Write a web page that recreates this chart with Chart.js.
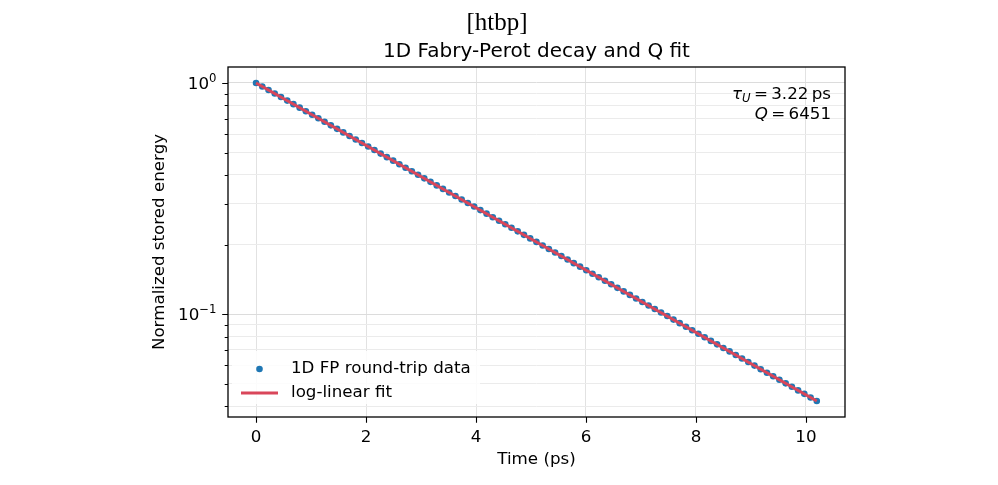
<!DOCTYPE html>
<html>
<head>
<meta charset="utf-8">
<script src="https://cdn.jsdelivr.net/npm/chart.js@4.4.1/dist/chart.umd.min.js"></script>
<style>
  html, body { margin: 0; padding: 0; background: #fff; }
</style>
</head>
<body>
<canvas id="decayChart" width="998" height="485"></canvas>
<script>
// round-trip samples (ps, normalized energy)
const roundTripTimes = [
  0, 0.113, 0.227, 0.340, 0.453, 0.567, 0.680, 0.793, 0.906, 1.020,
  1.133, 1.246, 1.360, 1.473, 1.586, 1.700, 1.813, 1.926, 2.039, 2.153,
  2.266, 2.379, 2.493, 2.606, 2.719, 2.833, 2.946, 3.059, 3.172, 3.286,
  3.399, 3.512, 3.626, 3.739, 3.852, 3.966, 4.079, 4.192, 4.305, 4.419,
  4.532, 4.645, 4.759, 4.872, 4.985, 5.099, 5.212, 5.325, 5.438, 5.552,
  5.665, 5.778, 5.892, 6.005, 6.118, 6.232, 6.345, 6.458, 6.571, 6.685,
  6.798, 6.911, 7.025, 7.138, 7.251, 7.365, 7.478, 7.591, 7.704, 7.818,
  7.931, 8.044, 8.158, 8.271, 8.384, 8.498, 8.611, 8.724, 8.837, 8.951,
  9.064, 9.177, 9.291, 9.404, 9.517, 9.631, 9.744, 9.857, 9.970, 10.084,
  10.197
];
const storedEnergy = [
  1.000, 0.9654, 0.9320, 0.8998, 0.8687, 0.8387, 0.8097, 0.7817, 0.7547, 0.7286,
  0.7034, 0.6791, 0.6556, 0.6329, 0.6110, 0.5899, 0.5695, 0.5498, 0.5308, 0.5125,
  0.4947, 0.4776, 0.4611, 0.4452, 0.4298, 0.4149, 0.4006, 0.3867, 0.3734, 0.3605,
  0.3480, 0.3360, 0.3243, 0.3131, 0.3023, 0.2919, 0.2818, 0.2720, 0.2626, 0.2535,
  0.2448, 0.2363, 0.2281, 0.2203, 0.2126, 0.2053, 0.1982, 0.1913, 0.1847, 0.1783,
  0.1722, 0.1662, 0.1605, 0.1549, 0.1496, 0.1444, 0.1394, 0.1346, 0.1299, 0.1254,
  0.1211, 0.1169, 0.1129, 0.1090, 0.1052, 0.1016, 0.0981, 0.0947, 0.0914, 0.0882,
  0.0852, 0.0822, 0.0794, 0.0766, 0.0740, 0.0714, 0.0690, 0.0666, 0.0643, 0.0621,
  0.0599, 0.0578, 0.0558, 0.0539, 0.0520, 0.0502, 0.0485, 0.0468, 0.0452, 0.0436,
  0.0421
];
// straight fit on the log axis, endpoints only
const fitTimes = [0, 10.197];
const fitEnergy = [1.0, 0.0421];

const xTickValues = [0, 2, 4, 6, 8, 10];
const yTickValues = [0.04, 0.05, 0.06, 0.07, 0.08, 0.09, 0.1, 0.2, 0.3, 0.4, 0.5, 0.6, 0.7, 0.8, 0.9, 1];
const yMajorTicks = [0.1, 1];
const yMajorExponents = ['\u22121', '0'];

const BLUE = '#1f77b4';
const RED = '#d9465a';
const FONT = "'DejaVu Sans'";
const FS = 16.7;

Chart.defaults.font.family = FONT;
Chart.defaults.font.size = FS;
Chart.defaults.color = '#000';

function drawRuns(ctx, runs, rightX, y) {
  let total = 0;
  runs.forEach(r => { ctx.font = r.font; r.w = ctx.measureText(r.text).width; total += r.w; });
  let x = rightX - total;
  ctx.textAlign = 'left';
  ctx.textBaseline = 'alphabetic';
  runs.forEach(r => { ctx.font = r.font; ctx.fillText(r.text, x, y + (r.dy || 0)); x += r.w; });
}

const decor = {
  id: 'decor',
  afterDatasetsDraw(chart) {
    const ctx = chart.ctx;
    ctx.save();
    // legend
    ctx.fillStyle = 'rgba(255,255,255,0.85)';
    ctx.fillRect(232, 351, 248, 53);
    ctx.fillStyle = BLUE;
    ctx.beginPath();
    ctx.arc(259.5, 369, 3.3, 0, Math.PI * 2);
    ctx.fill();
    ctx.strokeStyle = RED;
    ctx.lineWidth = 3;
    ctx.beginPath();
    ctx.moveTo(241, 393);
    ctx.lineTo(278, 393);
    ctx.stroke();
    ctx.fillStyle = '#000';
    ctx.font = FS + 'px ' + FONT;
    ctx.textAlign = 'left';
    ctx.textBaseline = 'middle';
    ctx.fillText('1D FP round-trip data', 291, 369);
    ctx.fillText('log-linear fit', 291, 393);
    ctx.restore();
  },
  afterDraw(chart) {
    const ctx = chart.ctx;
    const a = chart.chartArea;
    const xs = chart.scales.x, ys = chart.scales.y;
    ctx.save();
    // frame
    ctx.strokeStyle = '#000';
    ctx.lineWidth = 1.3;
    ctx.strokeRect(a.left, a.top, a.right - a.left, a.bottom - a.top);
    // tick marks
    ctx.lineWidth = 1.1;
    ctx.beginPath();
    xTickValues.forEach(v => {
      const px = Math.round(xs.getPixelForValue(v)) + 0.5;
      ctx.moveTo(px, a.bottom);
      ctx.lineTo(px, a.bottom + 5.8);
    });
    yTickValues.forEach(v => {
      const py = Math.round(ys.getPixelForValue(v)) + 0.5;
      const len = yMajorTicks.includes(v) ? 5.8 : 3.3;
      ctx.moveTo(a.left, py);
      ctx.lineTo(a.left - len, py);
    });
    ctx.stroke();
    // y tick labels as 10 with raised exponent
    ctx.fillStyle = '#000';
    yMajorTicks.forEach((v, k) => {
      const py = ys.getPixelForValue(v);
      drawRuns(ctx, [
        { text: '10', font: FS + 'px ' + FONT },
        { text: yMajorExponents[k], font: '11.7px ' + FONT, dy: -7 }
      ], a.left - 11.5, py + 6);
    });
    // titles
    ctx.textAlign = 'center';
    ctx.textBaseline = 'middle';
    ctx.font = "25px 'Liberation Serif'";
    ctx.fillText('[htbp]', 497, 23);
    ctx.font = '20px ' + FONT;
    ctx.fillText('1D Fabry-Perot decay and Q fit', (a.left + a.right) / 2, 52);
    // fit annotation
    drawRuns(ctx, [
      { text: 'τ', font: 'italic ' + FS + 'px ' + FONT },
      { text: 'U', font: 'italic 11.7px ' + FONT, dy: 3 },
      { text: '\u2009=\u20093.22', font: FS + 'px ' + FONT },
      { text: '\u2009ps', font: FS + 'px ' + FONT }
    ], 831, 99);
    drawRuns(ctx, [
      { text: 'Q', font: 'italic ' + FS + 'px ' + FONT },
      { text: '\u2009=\u20096451', font: FS + 'px ' + FONT }
    ], 831, 119);
    ctx.restore();
  }
};

new Chart(document.getElementById('decayChart'), {
  type: 'scatter',
  data: {
    datasets: [
      {
        label: '1D FP round-trip data',
        data: roundTripTimes.map((t, i) => ({ x: t, y: storedEnergy[i] })),
        backgroundColor: BLUE,
        borderColor: BLUE,
        pointRadius: 3.3,
        borderWidth: 0,
        order: 2
      },
      {
        label: 'log-linear fit',
        type: 'line',
        data: fitTimes.map((t, i) => ({ x: t, y: fitEnergy[i] })),
        borderColor: RED,
        borderWidth: 3,
        pointRadius: 0,
        fill: false,
        order: 1
      }
    ]
  },
  options: {
    responsive: false,
    animation: false,
    layout: { padding: { left: 150, right: 153, top: 67, bottom: 15 } },
    plugins: {
      legend: { display: false },
      tooltip: { enabled: false },
      title: { display: false }
    },
    scales: {
      x: {
        type: 'linear',
        min: -0.51,
        max: 10.71,
        afterBuildTicks: s => { s.ticks = xTickValues.map(v => ({ value: v })); },
        afterFit: s => { s.height = 53; },
        border: { display: false },
        grid: { color: '#e2e2e2', drawTicks: false },
        ticks: { padding: 11, maxRotation: 0, autoSkip: false, callback: v => String(v) },
        title: { display: true, text: 'Time (ps)', font: { size: FS }, padding: { top: 0, bottom: 0 } }
      },
      y: {
        type: 'logarithmic',
        min: 0.0359,
        max: 1.172,
        afterBuildTicks: s => { s.ticks = yTickValues.map(v => ({ value: v })); },
        afterFit: s => { s.width = 78; },
        border: { display: false },
        grid: {
          drawTicks: false,
          color: c => (c.tick && yMajorTicks.includes(c.tick.value)) ? '#dcdcdc' : '#ebebeb'
        },
        ticks: { autoSkip: false, callback: () => '' },
        title: { display: true, text: 'Normalized stored energy', font: { size: FS }, padding: { top: 0, bottom: 0 } }
      }
    }
  },
  plugins: [decor]
});
</script>
</body>
</html>
